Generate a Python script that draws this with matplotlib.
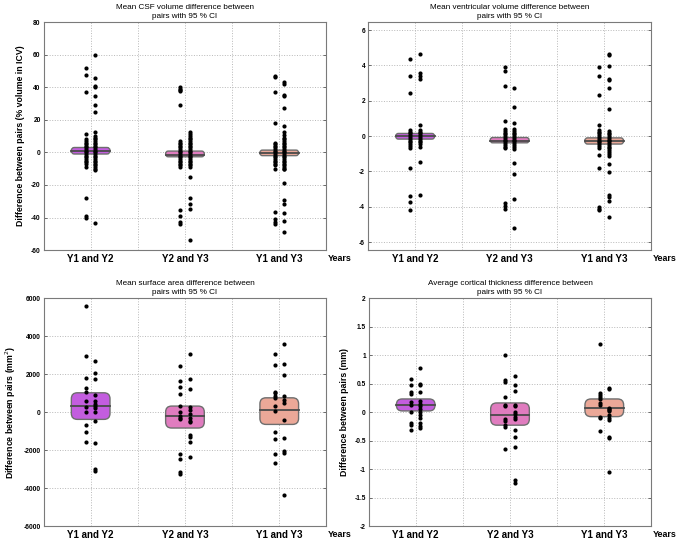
import matplotlib
matplotlib.use("Agg")
import matplotlib.pyplot as plt
from matplotlib.patches import FancyBboxPatch

plt.rcParams["font.family"] = ["Liberation Sans", "DejaVu Sans"]
plt.rcParams["axes.unicode_minus"] = False

pairs = ["Y1 and Y2", "Y2 and Y3", "Y1 and Y3"]
box_colors = ["#c35ddf", "#e07cbf", "#eba898"]

# ---- CSF volume (% of ICV) ----
csf_box = [(-1.0, 1.0, 3.0), (-2.7, -1.5, 0.8), (-2.0, -0.5, 1.4)]  # (q1, median, q3)
csf_left = [
    [52, 47.5, 37, 11.5, 8, 7, 6, 5, 4, 3, 2, 1, 0, -1, -2, -3, -4, -5, -6, -7, -9, -28, -39, -40],
    [40, 39, 38, 37.5, 29, 7, 6, 5, 4, 3, 2, 1, 0, -1, -2, -3, -4, -5, -6, -7, -8, -9, -35.5, -39, -43, -44],
    [47, 46, 37, 18, 6, 5, 4, 3, 2, 1, 0, -1, -2, -3, -4, -5, -6, -7, -8, -10.5, -36.5, -41, -43, -44],
]
csf_right = [
    [60, 45.5, 41, 40, 34.5, 29, 25, 12.5, 10, 9, 8, 7, 6, 5, 4, 3, 2, 1, 0, -1, -2, -3, -4, -5, -6,
     -7, -8, -9, -10, -11, -43.5],
    [12.5, 11, 10, 9, 8, 7, 6, 5, 4, 3, 2, 1, 0, -1, -2, -3, -4, -5, -6, -7, -8, -9, -15, -28, -31.5,
     -35, -53.5],
    [43.5, 42, 35, 34.5, 27, 16.5, 12.5, 10.5, 9, 8, 7, 6, 5, 4, 3, 2, 1, 0, -1, -2, -3, -4, -5, -6,
     -7, -8, -9, -10, -10.5, -19, -29, -31.5, -37.5, -42, -49],
]

# ---- ventricular volume ----
vent_box = [(-0.17, 0.0, 0.15), (-0.38, -0.25, -0.08), (-0.45, -0.3, -0.1)]
vent_left = [
    [4.35, 3.42, 2.43, 0.35, 0.25, 0.15, 0.05, -0.05, -0.15, -0.25, -0.35, -0.45, -0.55, -0.65,
     -1.8, -3.38, -3.75, -4.2],
    [3.9, 3.68, 2.82, 0.85, 0.4, 0.3, 0.2, 0.1, 0.0, -0.1, -0.2, -0.3, -0.4, -0.5, -0.6, -0.7,
     -3.78, -3.95, -4.1],
    [3.9, 3.38, 2.33, 0.65, 0.35, 0.25, 0.15, 0.05, -0.05, -0.15, -0.25, -0.35, -0.45, -0.55, -0.7,
     -1.08, -1.8, -4.0, -4.1, -4.2],
]
vent_right = [
    [4.65, 3.55, 3.4, 3.25, 0.6, 0.35, 0.25, 0.15, 0.05, -0.05, -0.15, -0.25, -0.35, -0.45, -0.6,
     -1.45, -3.32],
    [2.7, 1.65, 0.75, 0.4, 0.3, 0.2, 0.1, 0.0, -0.1, -0.2, -0.3, -0.4, -0.5, -0.6, -0.75,
     -1.5, -2.15, -3.55, -5.2],
    [4.65, 4.6, 3.98, 3.25, 3.15, 2.72, 1.55, 0.3, 0.2, 0.1, 0.0, -0.1, -0.2, -0.3, -0.4, -0.5,
     -0.6, -0.7, -0.8, -0.9, -1.0, -1.1, -1.58, -2.05, -3.33, -3.45, -3.65, -4.58],
]

# ---- surface area (mm^2) ----
area_box = [(-385, 318, 1015), (-840, -230, 315), (-650, 90, 750)]
area_left = [
    [5600, 2930, 1780, 1280, 1040, 580, 270, 0, -700, -1060, -1590],
    [2430, 1650, 1310, 940, 320, 0, -200, -300, -340, -2230, -2470, -3150, -3250],
    [3080, 2470, 1080, 980, 850, 720, 300, 40, -1040, -1440, -2230, -2680],
]
area_right = [
    [2700, 2070, 1720, 920, 560, 420, 320, 230, 0, -480, -1640, -3000, -3100],
    [3050, 1750, 1240, 250, 100, -100, -300, -480, -520, -1230, -1300, -1550, -2370],
    [3600, 2520, 1970, 870, 620, 480, -430, -1390, -2070, -2140, -4380],
]

# ---- cortical thickness (mm) ----
thick_box = [(0.02, 0.12, 0.23), (-0.23, -0.05, 0.16), (-0.08, 0.07, 0.23)]
thick_left = [
    [0.58, 0.47, 0.36, 0.32, 0.17, 0.13, 0.0, -0.2, -0.23, -0.32],
    [1.0, 0.56, 0.53, 0.27, 0.12, 0.1, -0.12, -0.15, -0.23, -0.26, -0.65],
    [1.19, 0.33, 0.3, 0.26, 0.23, 0.16, 0.12, -0.08, -0.1, -0.33],
]
thick_right = [
    [0.77, 0.5, 0.48, 0.35, 0.2, 0.15, 0.1, 0.05, 0.0, -0.05, -0.1, -0.2, -0.25, -0.28],
    [0.63, 0.48, 0.37, 0.12, 0.1, 0.0, -0.03, -0.08, -0.13, -0.32, -0.44, -0.62, -1.2, -1.25],
    [0.43, 0.41, 0.08, 0.06, 0.04, 0.02, -0.05, -0.1, -0.14, -0.44, -0.46, -1.05],
]

panels = [
    dict(rect=[0.064, 0.536, 0.416, 0.423], title="Mean CSF volume difference between\npairs with 95 % CI",
         ylabel="Difference between pairs (% volume in ICV)", ylim=(-60, 80),
         yticks=[-60, -40, -20, 0, 20, 40, 60, 80], box=csf_box, left=csf_left, right=csf_right),
    dict(rect=[0.541, 0.536, 0.417, 0.423], title="Mean ventricular volume difference between\npairs with 95 % CI",
         ylabel=None, ylim=(-6.45, 6.45),
         yticks=[-6, -4, -2, 0, 2, 4, 6], box=vent_box, left=vent_left, right=vent_right),
    dict(rect=[0.064, 0.024, 0.416, 0.423], title="Mean surface area difference between\npairs with 95 % CI",
         ylabel="Difference between pairs (mm$^2$)", ylim=(-6000, 6000),
         yticks=[-6000, -4000, -2000, 0, 2000, 4000, 6000], box=area_box, left=area_left, right=area_right),
    dict(rect=[0.542, 0.024, 0.416, 0.423], title="Average cortical thickness difference between\npairs with 95 % CI",
         ylabel="Difference between pairs (mm)", ylim=(-2, 2),
         yticks=[-2, -1.5, -1, -0.5, 0, 0.5, 1, 1.5, 2], box=thick_box, left=thick_left, right=thick_right),
]

W, H = 680, 539
fig = plt.figure(figsize=(W / 100, H / 100), dpi=100)
xpos = [1, 3, 5]

for p in panels:
    ax = fig.add_axes(p["rect"])
    ax.set_xlim(0, 6)
    ax.set_ylim(*p["ylim"])
    ax_w = p["rect"][2] * W
    ax_h = p["rect"][3] * H
    yspan = p["ylim"][1] - p["ylim"][0]
    asp = (yspan / ax_h) / (6 / ax_w)

    for i, x in enumerate(xpos):
        q1, med, q3 = p["box"][i]
        h_px = (q3 - q1) / yspan * ax_h
        r_px = min(6, h_px / 2 - 0.2)
        r = r_px * 6 / ax_w
        bx = FancyBboxPatch((x - 0.41, q1), 0.82, q3 - q1,
                            boxstyle=f"round,pad=0,rounding_size={r}", mutation_aspect=asp,
                            facecolor=box_colors[i], edgecolor="#6e6e6e", lw=1.0, zorder=2)
        ax.add_patch(bx)
        ax.plot([x - 0.41, x + 0.41], [med, med], color="#4a4a4a", lw=1.3, zorder=3)
        ax.scatter([x - 0.1] * len(p["left"][i]), p["left"][i], s=9, color="black", zorder=4, lw=0)
        ax.scatter([x + 0.1] * len(p["right"][i]), p["right"][i], s=9, color="black", zorder=4, lw=0)

    ax.set_xticks(range(7), minor=False)
    ax.set_xticklabels(["", pairs[0], "", pairs[1], "", pairs[2], ""], fontweight="bold", fontsize=7)
    ax.set_yticks(p["yticks"])
    ax.set_yticklabels([f"{v:g}" for v in p["yticks"]], fontweight="bold", fontsize=4.8)
    ax.tick_params(axis="both", direction="in", length=2.5, width=0.6, color="#555555",
                   top=True, right=True, pad=2)
    ax.tick_params(axis="x", length=0, pad=3)
    ax.grid(True, linestyle=":", color="#b8b8b8", lw=0.7)
    for s in ax.spines.values():
        s.set_color("#7a7a7a")
        s.set_linewidth(0.8)
    ax.set_title(p["title"], fontsize=5.9, pad=3, linespacing=1.3)
    if p["ylabel"]:
        ax.set_ylabel(p["ylabel"], fontsize=6.3, fontweight="bold", labelpad=4)
    ax.text(1.006, -0.018, "Years", transform=ax.transAxes, ha="left", va="top",
            fontsize=6.4, fontweight="bold")

fig.savefig("out.png", dpi=100)
